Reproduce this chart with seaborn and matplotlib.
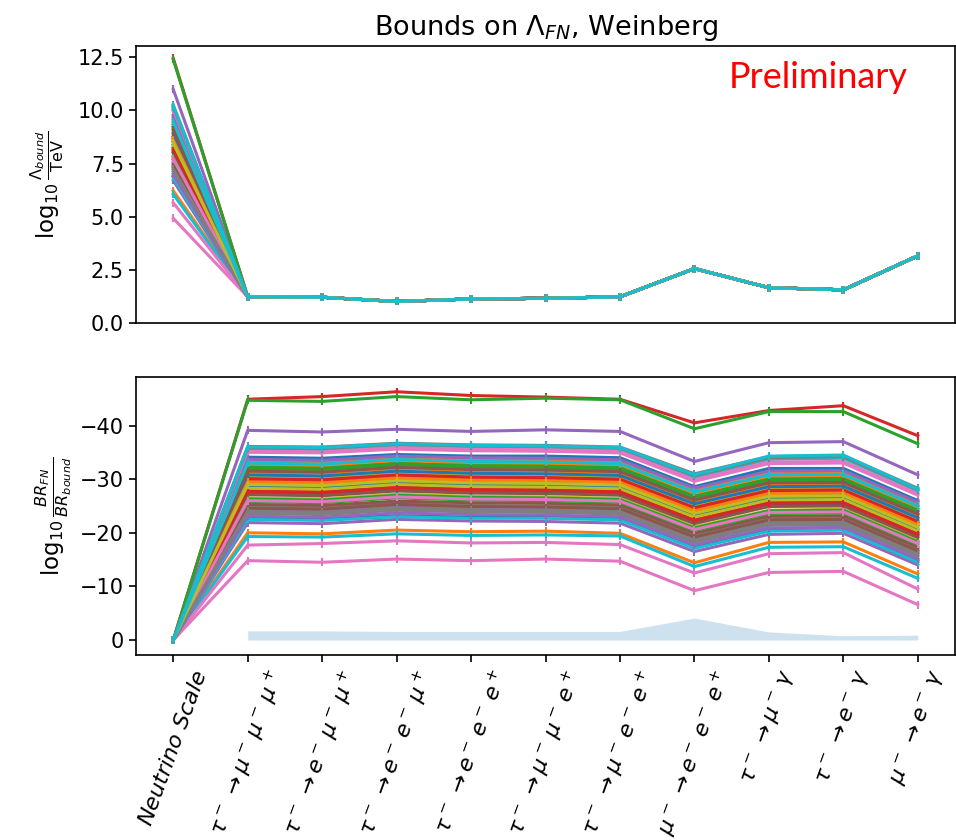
"""
Bounds on Lambda_FN (Weinberg operator): lower bound on the scale per process
and the resulting branching-ratio suppression, one line per benchmark point.
"""
import numpy as np
import pandas as pd
import seaborn as sns
import matplotlib.pyplot as plt

processes = [
    r"$Neutrino\ Scale$",
    r"$\tau^-\,\to\mu^-\,\mu^-\,\mu^+$",
    r"$\tau^-\,\to e^-\,\mu^-\,\mu^+$",
    r"$\tau^-\,\to e^-\,e^-\,\mu^+$",
    r"$\tau^-\,\to e^-\,e^-\,e^+$",
    r"$\tau^-\,\to\mu^-\,\mu^-\,e^+$",
    r"$\tau^-\,\to\mu^-\,e^-\,e^+$",
    r"$\mu^-\,\to e^-\,e^-\,e^+$",
    r"$\tau^-\,\to\mu^-\,\gamma$",
    r"$\tau^-\,\to e^-\,\gamma$",
    r"$\mu^-\,\to e^-\,\gamma$",
]

# top panel: log10(Lambda/TeV) at the neutrino scale, one per line
lam_nu = [
    8.07, 6.22, 9.32, 12.45, 10.99, 8.52, 4.92, 7.45, 7.85, 6.05,
    9.75, 9.55, 12.40, 8.22, 6.70, 7.55, 5.65, 10.25, 8.85, 10.12,
    6.90, 9.05, 7.67, 8.67, 7.30, 8.00, 9.97, 7.12, 9.20, 6.85,
    8.37, 9.42, 7.80, 8.75, 9.65, 7.37, 10.05, 10.17, 8.30, 10.22,
    8.92, 8.60, 9.22, 8.15, 7.00, 9.10, 7.72, 7.22, 8.47, 9.47,
]
# top panel: bound for each experimental process (shared by all lines)
lam_bound = [1.22, 1.20, 1.00, 1.12, 1.15, 1.22, 2.55, 1.65, 1.55, 3.15]

# bottom panel: log10(BR_FN / BR_bound) for each process, one row per line
br_at_neutrino_scale = 0.0
br_ratio = [
    [-27.4, -27.1, -28.2, -27.7, -27.6, -27.3, -22.0, -25.2, -25.4, -19.5],
    [-20.0, -19.8, -20.5, -20.2, -20.3, -19.9, -14.4, -18.2, -18.3, -12.3],
    [-32.4, -32.2, -33.0, -32.7, -32.6, -32.3, -26.9, -30.1, -30.3, -24.4],
    [-44.9, -45.4, -46.3, -45.6, -45.3, -44.9, -40.5, -42.8, -43.7, -38.1],
    [-39.1, -38.8, -39.3, -38.9, -39.2, -38.9, -33.3, -36.8, -37.0, -30.8],
    [-29.2, -29.0, -29.9, -29.5, -29.4, -29.1, -23.8, -27.0, -27.1, -21.3],
    [-14.8, -14.5, -15.1, -14.8, -15.1, -14.7, -9.2, -12.6, -12.8, -6.6],
    [-24.9, -24.7, -25.5, -25.1, -25.0, -24.8, -19.5, -22.7, -22.8, -16.9],
    [-26.5, -26.3, -27.2, -26.8, -26.7, -26.4, -21.1, -24.2, -24.4, -18.5],
    [-19.3, -19.2, -19.8, -19.5, -19.6, -19.4, -13.7, -17.3, -17.4, -11.5],
    [-34.1, -33.9, -34.6, -34.3, -34.3, -34.0, -28.6, -32.0, -32.0, -26.0],
    [-33.3, -33.1, -34.0, -33.6, -33.5, -33.2, -27.8, -31.0, -31.2, -25.3],
    [-44.7, -44.5, -45.4, -44.8, -45.1, -44.8, -39.4, -42.6, -42.6, -36.6],
    [-28.0, -27.8, -28.7, -28.3, -28.2, -27.9, -22.5, -25.7, -25.9, -20.0],
    [-21.9, -21.7, -22.5, -22.2, -22.1, -21.8, -16.5, -19.7, -19.9, -14.0],
    [-25.3, -25.1, -25.9, -25.6, -25.5, -25.2, -19.9, -23.1, -23.2, -17.3],
    [-17.7, -18.0, -18.5, -18.1, -18.2, -17.8, -12.5, -16.1, -16.3, -9.5],
    [-36.1, -36.0, -36.7, -36.4, -36.3, -36.0, -31.0, -34.2, -34.4, -28.3],
    [-30.5, -30.3, -31.2, -30.8, -30.7, -30.4, -25.1, -28.3, -28.4, -22.5],
    [-35.6, -35.5, -36.3, -35.9, -35.8, -35.5, -30.3, -33.7, -33.9, -27.8],
    [-22.7, -22.5, -23.2, -22.9, -22.9, -22.6, -17.3, -20.5, -20.7, -14.8],
    [-31.3, -31.1, -32.0, -31.6, -31.5, -31.2, -25.9, -29.1, -29.2, -23.3],
    [-25.8, -25.6, -26.5, -26.1, -26.0, -25.7, -20.4, -23.6, -23.7, -17.8],
    [-29.8, -29.6, -30.5, -30.1, -30.0, -29.7, -24.4, -27.6, -27.7, -21.8],
    [-24.3, -24.1, -24.9, -24.6, -24.5, -24.2, -18.9, -22.1, -22.2, -16.3],
    [-27.1, -26.9, -27.8, -27.4, -27.3, -27.0, -21.7, -24.9, -25.0, -19.1],
    [-35.0, -34.9, -35.6, -35.3, -35.2, -34.9, -29.6, -32.9, -33.0, -27.0],
    [-23.6, -23.4, -24.2, -23.9, -23.8, -23.5, -18.2, -21.4, -21.5, -15.6],
    [-31.9, -31.7, -32.5, -32.2, -32.1, -31.8, -26.5, -29.7, -29.8, -23.9],
    [-22.5, -22.3, -23.0, -22.7, -22.7, -22.4, -17.1, -20.3, -20.5, -14.5],
    [-28.6, -28.4, -29.3, -28.9, -28.8, -28.5, -23.2, -26.4, -26.5, -20.6],
    [-32.8, -32.6, -33.5, -33.1, -33.0, -32.7, -27.4, -30.6, -30.7, -24.8],
    [-26.3, -26.1, -27.0, -26.6, -26.5, -26.2, -20.9, -24.1, -24.2, -18.3],
    [-30.1, -29.9, -30.8, -30.4, -30.3, -30.0, -24.7, -27.9, -28.0, -22.1],
    [-33.7, -33.5, -34.3, -34.0, -33.9, -33.6, -28.3, -31.5, -31.6, -25.7],
    [-24.6, -24.4, -25.3, -24.9, -24.8, -24.5, -19.2, -22.4, -22.5, -16.6],
    [-35.3, -35.1, -35.9, -35.6, -35.5, -35.2, -29.9, -33.2, -33.3, -27.3],
    [-35.8, -35.7, -36.5, -36.2, -36.1, -35.8, -30.6, -34.0, -34.2, -28.0],
    [-28.3, -28.1, -29.0, -28.6, -28.5, -28.2, -22.9, -26.1, -26.2, -20.3],
    [-36.0, -35.9, -36.6, -36.3, -36.2, -35.9, -30.8, -34.3, -34.5, -28.1],
    [-30.8, -30.6, -31.5, -31.1, -31.0, -30.7, -25.4, -28.6, -28.7, -22.8],
    [-29.5, -29.3, -30.2, -29.8, -29.7, -29.4, -24.1, -27.3, -27.4, -21.5],
    [-32.0, -31.8, -32.7, -32.3, -32.2, -31.9, -26.6, -29.8, -29.9, -24.0],
    [-27.7, -27.5, -28.4, -28.0, -27.9, -27.6, -22.3, -25.5, -25.6, -19.7],
    [-23.1, -22.9, -23.7, -23.4, -23.3, -23.0, -17.7, -20.9, -21.0, -15.1],
    [-31.5, -31.3, -32.2, -31.8, -31.7, -31.4, -26.1, -29.3, -29.4, -23.5],
    [-26.0, -25.8, -26.7, -26.3, -26.2, -25.9, -20.6, -23.8, -23.9, -18.0],
    [-24.0, -23.8, -24.6, -24.3, -24.2, -23.9, -18.6, -21.8, -21.9, -16.0],
    [-29.0, -28.8, -29.7, -29.3, -29.2, -28.9, -23.6, -26.8, -26.9, -21.0],
    [-33.0, -32.8, -33.7, -33.3, -33.2, -32.9, -27.6, -30.8, -30.9, -25.0],
]

# shaded band under the experimental processes
band_top = [-1.7, -1.7, -1.6, -1.6, -1.6, -1.6, -4.1, -1.5, -0.8, -0.9]


def long_form(first_vals, rest):
    """Builds a long dataframe (line, x, value) for seaborn"""
    rows = []
    for i, first in enumerate(first_vals):
        vals = [first] + list(rest[i])
        for j, v in enumerate(vals):
            rows.append((f"L{i:02d}", j, v))
    return pd.DataFrame(rows, columns=["line", "x", "value"])


n_lines = len(lam_nu)
top_df = long_form(lam_nu, [lam_bound] * n_lines)
bot_df = long_form([br_at_neutrino_scale] * n_lines, br_ratio)
line_order = [f"L{i:02d}" for i in range(n_lines)]
palette = [f"C{i % 10}" for i in range(n_lines)]

plt.rcParams["axes.linewidth"] = 1.2
plt.rcParams["xtick.major.width"] = 1.2
plt.rcParams["ytick.major.width"] = 1.2
plt.rcParams["xtick.major.size"] = 5.2
plt.rcParams["ytick.major.size"] = 5.2

fig = plt.figure(figsize=(9.56, 8.4), dpi=100)
ax1 = fig.add_axes([0.1423, 0.6158, 0.8567, 0.3298])
ax2 = fig.add_axes([0.1423, 0.2202, 0.8567, 0.3313])

line_kws = dict(x="x", y="value", hue="line", hue_order=line_order, palette=palette,
                legend=False, estimator=None, marker="|", markersize=6, linewidth=2.2)
sns.lineplot(data=top_df, ax=ax1, **line_kws)
sns.lineplot(data=bot_df, ax=ax2, **line_kws)

# seaborn paints marker edges white; the vertical ticks need the line colour
for ax in (ax1, ax2):
    for ln in ax.lines:
        ln.set_markeredgecolor(ln.get_color())
        ln.set_markeredgewidth(1.5)

xs = np.arange(1, len(processes))
ax2.fill_between(xs, 0, band_top, color="C0", alpha=0.22, linewidth=0)

# top panel
ax1.set_xlim(-0.5, len(processes) - 0.5)
ax1.set_ylim(0, 13.05)
ax1.set_yticks([0, 2.5, 5, 7.5, 10, 12.5])
ax1.set_xticks([])
ax1.set_xlabel("")
ax1.set_ylabel(r"$\log_{10}\frac{\Lambda_{bound}}{\mathrm{TeV}}$", fontsize=16.5, labelpad=8)
ax1.set_title(r"Bounds on $\Lambda_{FN}$, Weinberg", fontsize=19.5, pad=8)
ax1.tick_params(labelsize=15)

# bottom panel (inverted y)
ax2.set_xlim(-0.5, len(processes) - 0.5)
ax2.set_ylim(2.8, -49.1)
ax2.set_yticks([0, -10, -20, -30, -40])
ax2.set_xticks(range(len(processes)))
ax2.set_xticklabels(processes, rotation=70, fontsize=16)
ax2.set_xlabel("")
ax2.set_ylabel(r"$\log_{10}\frac{BR_{FN}}{BR_{bound}}$", fontsize=16.5, labelpad=4)
ax2.tick_params(axis="y", labelsize=15)

fig.text(0.856, 0.895, "Preliminary", color="red", fontsize=26,
         family=["Lato", "DejaVu Sans"], ha="center", va="baseline")

fig.savefig("out.png", dpi=100)
